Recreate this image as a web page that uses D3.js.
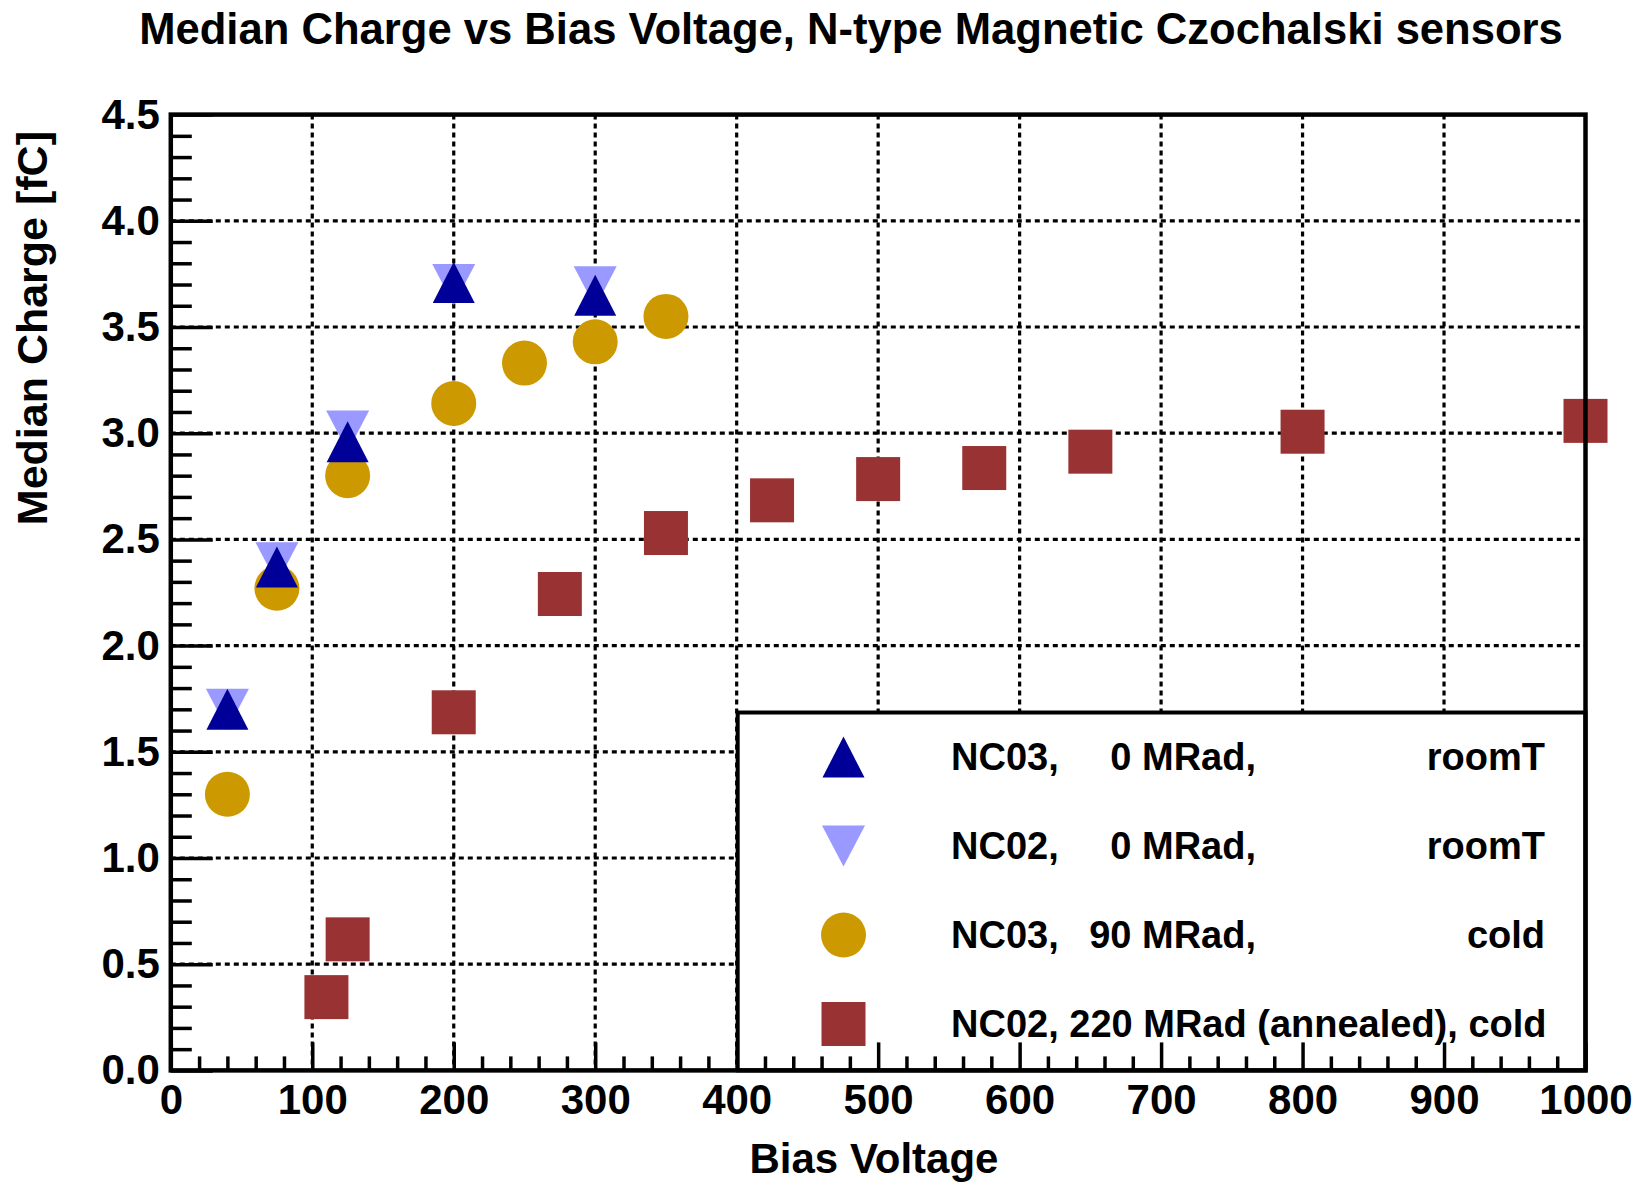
<!DOCTYPE html>
<html>
<head>
<meta charset="utf-8">
<script src="https://cdn.jsdelivr.net/npm/d3@7"></script>
<style>
  body { margin: 0; background: #fff; }
  text { font-family: "Liberation Sans", Arial, sans-serif; font-weight: bold; fill: #000; }
</style>
</head>
<body>
<div id="graph"></div>
<script>
// bias voltage [V] and median charge [fC] per sensor
var nc03_0_volt  = [40, 75, 125, 200, 300];
var nc03_0_q     = [1.70, 2.37, 2.96, 3.71, 3.65];
var nc02_0_volt  = [40, 75, 125, 200, 300];
var nc02_0_q     = [1.70, 2.39, 3.01, 3.70, 3.69];
var nc03_90_volt = [40, 75, 125, 200, 250, 300, 350];
var nc03_90_q    = [1.30, 2.27, 2.80, 3.14, 3.33, 3.43, 3.55];
var nc02_220_volt = [110, 125, 200, 275, 350, 425, 500, 575, 650, 800, 1000];
var nc02_220_q    = [0.345, 0.617, 1.686, 2.243, 2.530, 2.684, 2.784, 2.836, 2.913, 3.007, 3.058];

var xTicks = [0, 100, 200, 300, 400, 500, 600, 700, 800, 900, 1000];
var yTicks = [0, 0.5, 1.0, 1.5, 2.0, 2.5, 3.0, 3.5, 4.0, 4.5];

var legendCols = [
  ["NC03,", "0 MRad,", "roomT"],
  ["NC02,", "0 MRad,", "roomT"],
  ["NC03,", "90 MRad,", "cold"],
  ["NC02, 220 MRad (annealed), cold", "", ""]
];

var width = 1637, height = 1182;
var svg = d3.select("#graph").append("svg")
    .attr("width", width).attr("height", height);

// frame in pixels
var fLeft = 170.8, fRight = 1585.5, fTop = 114.6, fBottom = 1070.4;
var x = d3.scaleLinear().domain([0, 1000]).range([fLeft, fRight]);
var y = d3.scaleLinear().domain([0, 4.5]).range([fBottom, fTop]);

var palette = {
  darkblue: "#000099",
  lightblue: "#9999ff",
  gold: "#cc9900",
  brick: "#993333"
};

// markers
function tri(w, h, up) {
  var s = up ? 1 : -1;
  return "M0," + (-s * h / 2) + "L" + (w / 2) + "," + (s * h / 2) + "L" + (-w / 2) + "," + (s * h / 2) + "Z";
}
var shapes = {
  up: function(g, c) { g.append("path").attr("d", tri(42, 41, true)).attr("fill", c); },
  down: function(g, c) { g.append("path").attr("d", tri(43, 41, false)).attr("fill", c); },
  circle: function(g, c) { g.append("circle").attr("r", 22.5).attr("fill", c); },
  square: function(g, c) { g.append("rect").attr("x", -22).attr("y", -22).attr("width", 44).attr("height", 44).attr("fill", c); }
};

var series = [
  { volt: nc02_220_volt, q: nc02_220_q, shape: "square", color: palette.brick },
  { volt: nc03_90_volt, q: nc03_90_q, shape: "circle", color: palette.gold },
  { volt: nc02_0_volt, q: nc02_0_q, shape: "down", color: palette.lightblue },
  { volt: nc03_0_volt, q: nc03_0_q, shape: "up", color: palette.darkblue }
];
var legendOrder = [3, 2, 1, 0];

// grid
var grid = svg.append("g")
    .attr("stroke", "#000").attr("stroke-width", 3.2).attr("stroke-dasharray", "5,4");
grid.selectAll(".gx").data(xTicks.slice(1, -1)).enter().append("line")
    .attr("x1", function(d) { return x(d); }).attr("x2", function(d) { return x(d); })
    .attr("y1", fTop).attr("y2", fBottom);
grid.selectAll(".gy").data(yTicks.slice(1, -1)).enter().append("line")
    .attr("x1", fLeft).attr("x2", fRight)
    .attr("y1", function(d) { return y(d); }).attr("y2", function(d) { return y(d); });

// points
series.forEach(function(s) {
  var pts = s.volt.map(function(v, i) { return { v: v, q: s.q[i] }; });
  svg.append("g").selectAll("g").data(pts).enter().append("g")
      .attr("transform", function(d) { return "translate(" + x(d.v) + "," + y(d.q) + ")"; })
      .each(function() { shapes[s.shape](d3.select(this), s.color); });
});

// legend
var lg = svg.append("g");
var legTop = y(1.685);
lg.append("rect")
    .attr("x", x(400) + 1).attr("y", legTop)
    .attr("width", fRight - x(400) - 1).attr("height", fBottom - legTop)
    .attr("fill", "#fff").attr("stroke", "#000").attr("stroke-width", 4);
legendOrder.forEach(function(si, i) {
  var cy = legTop + 44.5 + i * 89;
  var row = lg.append("g");
  var m = row.append("g").attr("transform", "translate(843.5," + cy + ")");
  shapes[series[si].shape](m, series[si].color);
  var cols = legendCols[i];
  var base = cy + 13;
  row.append("text").attr("x", 951).attr("y", base).attr("font-size", 38).text(cols[0]);
  row.append("text").attr("x", 1256).attr("y", base).attr("font-size", 38).attr("text-anchor", "end").text(cols[1]);
  row.append("text").attr("x", 1545).attr("y", base).attr("font-size", 38).attr("text-anchor", "end").text(cols[2]);
});

// axes
var fmt = d3.format(".1f");
var yAxis = svg.append("g").attr("transform", "translate(" + fLeft + ",0)")
    .call(d3.axisLeft(y).tickValues(yTicks).tickFormat(fmt).tickSizeInner(-42).tickSizeOuter(0).tickPadding(11));
var yMinor = svg.append("g").attr("transform", "translate(" + fLeft + ",0)")
    .call(d3.axisLeft(y).tickValues(d3.range(1, 45).filter(function(d) { return d % 5; }).map(function(d) { return d / 10; }))
      .tickFormat("").tickSizeInner(-21).tickSizeOuter(0));
var xAxis = svg.append("g").attr("transform", "translate(0," + fBottom + ")")
    .call(d3.axisBottom(x).tickValues(xTicks).tickFormat(d3.format("d")).tickSizeInner(-28).tickSizeOuter(0).tickPadding(14));
var xMinor = svg.append("g").attr("transform", "translate(0," + fBottom + ")")
    .call(d3.axisBottom(x).tickValues(d3.range(20, 1000, 20).filter(function(d) { return d % 100; }))
      .tickFormat("").tickSizeInner(-14).tickSizeOuter(0));

[yAxis, yMinor, xAxis, xMinor].forEach(function(a) {
  a.select(".domain").remove();
  a.selectAll(".tick line").attr("stroke", "#000").attr("stroke-width", 3.5);
  a.selectAll("text").attr("font-family", "Liberation Sans, Arial, sans-serif")
      .attr("font-weight", "bold").attr("font-size", 42).attr("fill", "#000");
});

// frame
svg.append("rect")
    .attr("x", fLeft).attr("y", fTop).attr("width", fRight - fLeft).attr("height", fBottom - fTop)
    .attr("fill", "none").attr("stroke", "#000").attr("stroke-width", 4.5);

// titles
svg.append("text").attr("x", 851).attr("y", 44).attr("text-anchor", "middle")
    .attr("font-size", 43.6).text("Median Charge vs Bias Voltage, N-type Magnetic Czochalski sensors");
svg.append("text").attr("x", 874).attr("y", 1173).attr("text-anchor", "middle")
    .attr("font-size", 42).text("Bias Voltage");
svg.append("text").attr("transform", "translate(47,131) rotate(-90)").attr("text-anchor", "end")
    .attr("font-size", 43).text("Median Charge [fC]");
</script>
</body>
</html>
